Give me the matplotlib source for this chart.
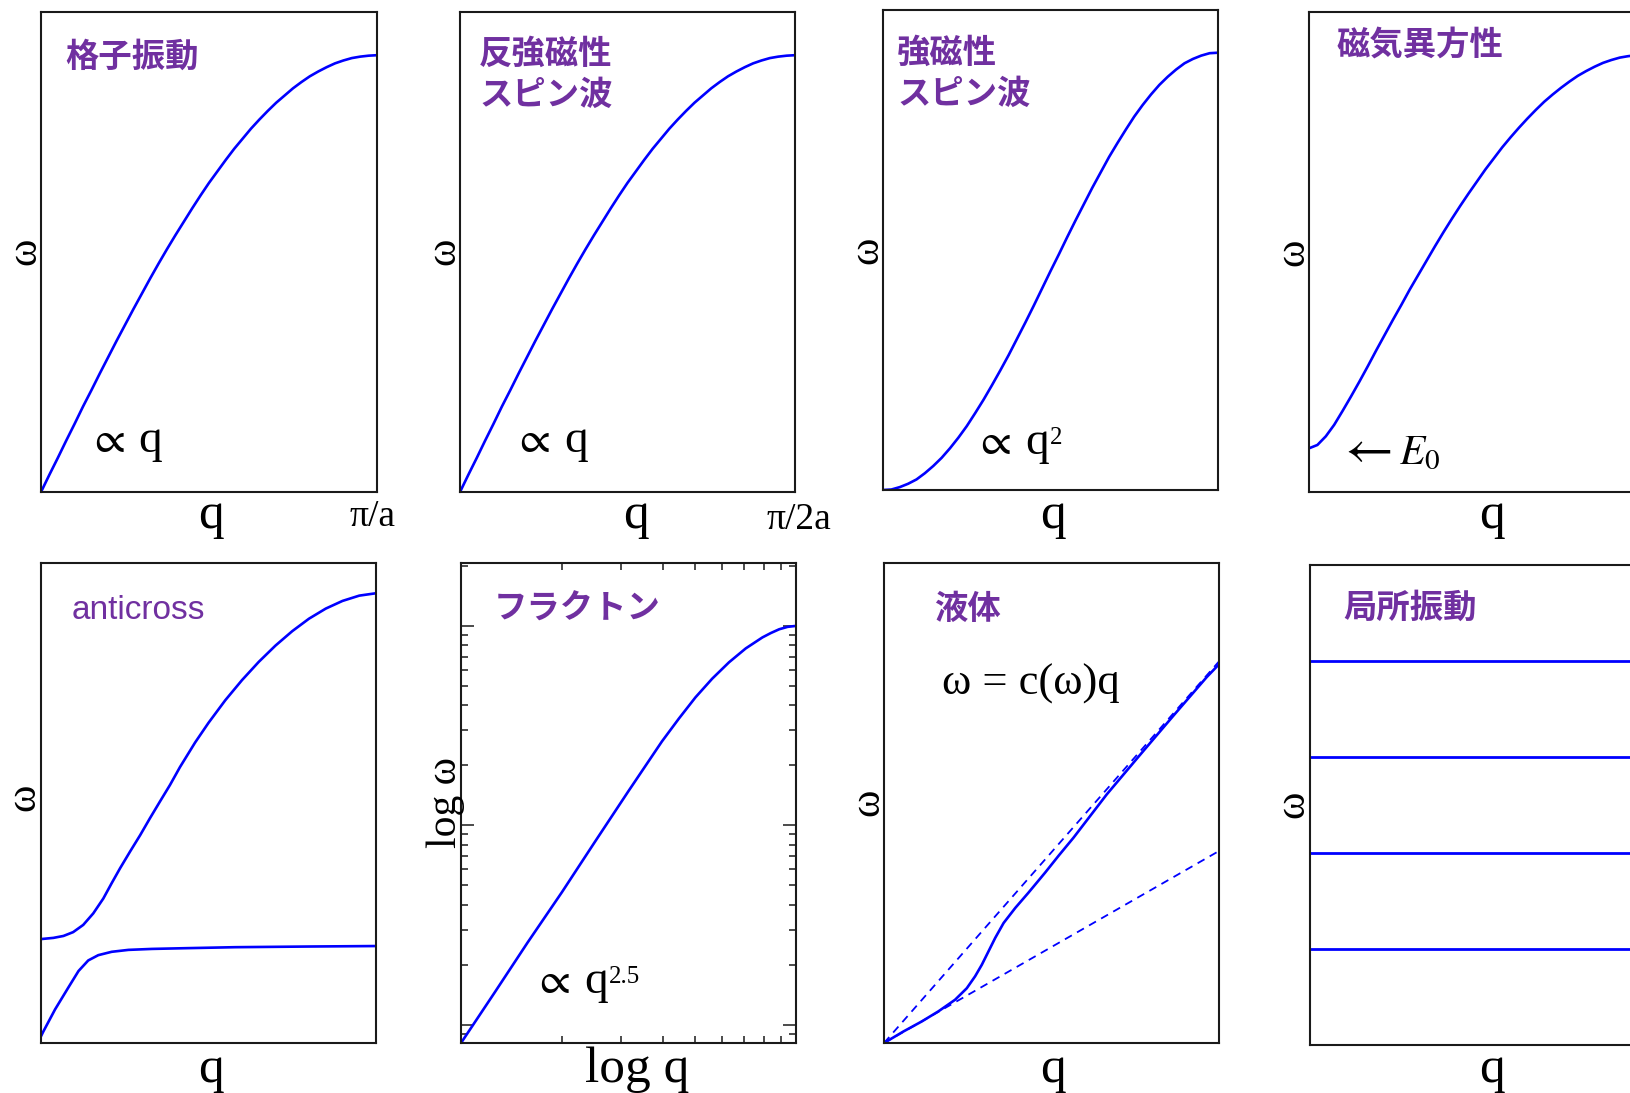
import matplotlib
matplotlib.use("Agg")
import matplotlib.pyplot as plt
from matplotlib.ticker import LogLocator, NullFormatter

# ---------------- data ----------------
# linear panels: q and omega in axis units 0..1
q_grid = [0.000, 0.025, 0.050, 0.075, 0.100, 0.125, 0.150, 0.175, 0.200, 0.225,
          0.250, 0.275, 0.300, 0.325, 0.350, 0.375, 0.400, 0.425, 0.450, 0.475,
          0.500, 0.525, 0.550, 0.575, 0.600, 0.625, 0.650, 0.675, 0.700, 0.725,
          0.750, 0.775, 0.800, 0.825, 0.850, 0.875, 0.900, 0.925, 0.950, 0.975, 1.000]

w_phonon = [0.000, 0.036, 0.071, 0.107, 0.142, 0.178, 0.212, 0.247, 0.281, 0.315,
            0.348, 0.381, 0.413, 0.445, 0.476, 0.506, 0.535, 0.563, 0.591, 0.618,
            0.644, 0.668, 0.692, 0.715, 0.736, 0.757, 0.776, 0.794, 0.811, 0.826,
            0.841, 0.854, 0.866, 0.876, 0.885, 0.893, 0.899, 0.904, 0.907, 0.909, 0.910]
w_afm = [0.000, 0.036, 0.071, 0.107, 0.142, 0.178, 0.212, 0.247, 0.281, 0.315,
         0.348, 0.381, 0.413, 0.445, 0.476, 0.506, 0.535, 0.563, 0.591, 0.618,
         0.644, 0.668, 0.692, 0.715, 0.736, 0.757, 0.776, 0.794, 0.811, 0.826,
         0.841, 0.854, 0.866, 0.876, 0.885, 0.893, 0.899, 0.904, 0.907, 0.909, 0.910]
w_ferro = [0.000, 0.001, 0.006, 0.013, 0.022, 0.035, 0.050, 0.067, 0.087, 0.109,
           0.133, 0.160, 0.188, 0.218, 0.249, 0.281, 0.315, 0.349, 0.384, 0.420,
           0.456, 0.491, 0.527, 0.562, 0.596, 0.630, 0.662, 0.694, 0.723, 0.751,
           0.778, 0.802, 0.824, 0.844, 0.861, 0.876, 0.889, 0.898, 0.905, 0.910, 0.911]
w_aniso = [0.091, 0.098, 0.116, 0.140, 0.169, 0.199, 0.230, 0.262, 0.295, 0.327,
           0.359, 0.390, 0.422, 0.452, 0.482, 0.512, 0.541, 0.569, 0.596, 0.622,
           0.647, 0.672, 0.695, 0.718, 0.739, 0.759, 0.778, 0.796, 0.813, 0.828,
           0.842, 0.855, 0.867, 0.877, 0.886, 0.894, 0.900, 0.905, 0.908, 0.910, 0.911]

q_ac_up = [0.000, 0.037, 0.067, 0.096, 0.126, 0.156, 0.186, 0.211, 0.236, 0.266,
           0.296, 0.325, 0.355, 0.385, 0.415, 0.460, 0.500, 0.550, 0.600, 0.650,
           0.700, 0.750, 0.800, 0.850, 0.900, 0.950, 1.000]
w_ac_up = [0.2165, 0.219, 0.223, 0.231, 0.246, 0.270, 0.301, 0.333, 0.364, 0.399,
           0.433, 0.468, 0.503, 0.5375, 0.575, 0.626, 0.667, 0.714, 0.756, 0.794,
           0.828, 0.858, 0.884, 0.905, 0.921, 0.932, 0.937]
q_ac_lo = [0.000, 0.007, 0.042, 0.082, 0.112, 0.141, 0.171, 0.211, 0.261, 0.331, 0.430,
           0.580, 0.800, 1.000]
w_ac_lo = [0.014, 0.024, 0.070, 0.116, 0.150, 0.172, 0.183, 0.190, 0.194, 0.196, 0.1975,
           0.1996, 0.201, 0.202]

# fracton panel (log-log)
q_fr = [1.00, 1.26, 1.58, 2.00, 2.51, 3.16, 3.98, 4.47, 5.01, 5.62, 6.31, 7.08, 7.94,
        8.41, 8.91, 9.44, 10.0]
w_fr = [0.81, 1.45, 2.58, 4.61, 8.25, 14.8, 26.3, 34.2, 43.7, 54.2, 65.5, 76.9, 87.3,
        91.8, 95.9, 98.6, 99.7]

# liquid panel
q_liq = [0.000, 0.058, 0.113, 0.1625, 0.212, 0.247, 0.272, 0.292, 0.312, 0.332, 0.357,
         0.392, 0.431, 0.481, 0.521, 0.566, 0.665, 0.764, 0.864, 0.963, 1.000]
w_liq = [0.000, 0.024, 0.045, 0.066, 0.090, 0.114, 0.139, 0.163, 0.191, 0.219, 0.250,
         0.2815, 0.313, 0.355, 0.390, 0.428, 0.518, 0.600, 0.682, 0.762, 0.789]
q_dash = [0.0, 1.0]
w_dash_hi = [0.0, 0.795]
w_dash_lo = [0.0, 0.400]

# local vibrations
w_local = [0.2, 0.4, 0.6, 0.8]

# ---------------- style ----------------
W, H = 1630, 1093
plt.rcParams['mathtext.fontset'] = 'stix'

SERIF = ['Liberation Serif', 'DejaVu Serif']
CJK = ['Noto Sans CJK JP', 'DejaVu Sans']
BLUE = '#0000ff'
PURPLE = '#7030a0'
SPINE = '#1a1a1a'
LW = 1.9

fig = plt.figure(figsize=(W / 100, H / 100), dpi=100)


def px_ax(x0, x1, y0, y1):
    return fig.add_axes([x0 / W, 1 - y1 / H, (x1 - x0) / W, (y1 - y0) / H])


def ftext(x, y, s, **kw):
    return fig.text(x / W, 1 - y / H, s, **kw)


def style(ax, log=False):
    for sp in ax.spines.values():
        sp.set_linewidth(1.5)
        sp.set_color(SPINE)
    if not log:
        ax.set_xticks([])
        ax.set_yticks([])
        ax.set_xlim(0, 1)
        ax.set_ylim(0, 1)


def title(x, y, s, size=24):
    ftext(x, y, s, family=CJK, weight='bold', color=PURPLE, fontsize=size,
          ha='left', va='center')


def xlab(x, y, s, size=37):
    ftext(x, y, s, family=SERIF, fontsize=size, ha='center', va='baseline')


def ylab(x, y, s, size=30):
    ftext(x, y, s, family=SERIF, fontsize=size, ha='center', va='center', rotation=90)


sups = []


def prop(x_prop, x_q, y, sup=None, sup_dy=10):
    ftext(x_prop - 9, y, r'$\propto$', fontsize=32, va='baseline',
          math_fontfamily='stix')
    t = ftext(x_q, y, 'q', family=SERIF, fontsize=34, va='baseline')
    if sup is not None:
        sups.append((t, sup, y - sup_dy))


# ---------------- top row ----------------
ax1 = px_ax(41, 377, 12, 492)
style(ax1)
ax1.plot(q_grid, w_phonon, color=BLUE, lw=LW)
title(65, 57, '格子振動')
prop(97, 138, 452)
xlab(211, 528, 'q')
xlab(373, 526, 'π/a', size=27)
ylab(25, 251, 'ω')

ax2 = px_ax(460, 795, 12, 492)
style(ax2)
ax2.plot(q_grid, w_afm, color=BLUE, lw=LW)
title(479, 54, '反強磁性')
title(479, 95, 'スピン波')
prop(522, 564, 452)
xlab(636, 528, 'q')
xlab(799, 529, 'π/2a', size=27)
ylab(444, 251, 'ω')

ax3 = px_ax(883, 1218, 10, 490)
style(ax3)
ax3.plot(q_grid, w_ferro, color=BLUE, lw=LW)
title(897, 53, '強磁性')
title(897, 94, 'スピン波')
prop(983, 1025, 454, sup='2', sup_dy=10)
xlab(1053, 528, 'q')
ylab(867, 250, 'ω')

ax4 = px_ax(1309, 1645, 12, 492)
style(ax4)
ax4.plot(q_grid, w_aniso, color=BLUE, lw=LW)
title(1337, 45, '磁気異方性')
ftext(1337, 464, r'$\leftarrow$', fontsize=38, va='baseline', math_fontfamily='stix')
ftext(1399, 464, r'$E_0$', fontsize=30, va='baseline', math_fontfamily='stix')
xlab(1492, 528, 'q')
ylab(1293, 252, 'ω')

# ---------------- bottom row ----------------
ax5 = px_ax(41, 376, 563, 1043)
style(ax5)
ax5.plot(q_ac_up, w_ac_up, color=BLUE, lw=LW)
ax5.plot(q_ac_lo, w_ac_lo, color=BLUE, lw=LW)
ftext(72, 619, 'anticross', family=['Liberation Sans', 'DejaVu Sans'],
      color=PURPLE, fontsize=24, va='baseline')
xlab(211, 1082, 'q')
ylab(24, 797, 'ω')

ax6 = px_ax(461, 796, 563, 1043)
style(ax6, log=True)
ax6.set_xscale('log')
ax6.set_yscale('log')
ax6.set_xlim(1, 10)
ax6.set_ylim(0.81, 206)
ax6.plot(q_fr, w_fr, color=BLUE, lw=LW)
for axis in (ax6.xaxis, ax6.yaxis):
    axis.set_major_locator(LogLocator(base=10))
    axis.set_minor_locator(LogLocator(base=10, subs=(2, 3, 4, 5, 6, 7, 8, 9)))
    axis.set_major_formatter(NullFormatter())
    axis.set_minor_formatter(NullFormatter())
ax6.tick_params(which='major', direction='in', length=9.5, width=1.1,
                top=True, right=True, color=SPINE)
ax6.tick_params(which='minor', direction='in', length=5, width=1.1,
                top=True, right=True, color=SPINE)
title(494, 609, 'フラクトン')
prop(542, 584, 993, sup='2.5', sup_dy=10)
xlab(637, 1082, 'log q')
ylab(446, 802, 'log ω')

ax7 = px_ax(884, 1219, 563, 1043)
style(ax7)
ax7.plot(q_dash, w_dash_hi, color=BLUE, lw=1.3, dashes=(4.4, 3.3))
ax7.plot(q_dash, w_dash_lo, color=BLUE, lw=1.3, dashes=(4.4, 3.3))
ax7.plot(q_liq, w_liq, color=BLUE, lw=LW)
title(934, 609, '液体')
ftext(942, 695, 'ω = c(ω)q', family=SERIF, fontsize=32, va='baseline')
xlab(1053, 1082, 'q')
ylab(868, 802, 'ω')

ax8 = px_ax(1310, 1646, 565, 1045)
style(ax8)
ax8.hlines(w_local, 0, 1, color=BLUE, lw=2.0)
title(1343, 608, '局所振動')
xlab(1492, 1082, 'q')
ylab(1293, 804, 'ω')

# superscripts placed right after their base letter
fig.canvas.draw()
renderer = fig.canvas.get_renderer()
for t, s, ybase in sups:
    bb = t.get_window_extent(renderer)
    ftext(bb.x1 + 1, ybase, s, family=SERIF, fontsize=18, va='baseline')

fig.savefig('out.png', dpi=100)
